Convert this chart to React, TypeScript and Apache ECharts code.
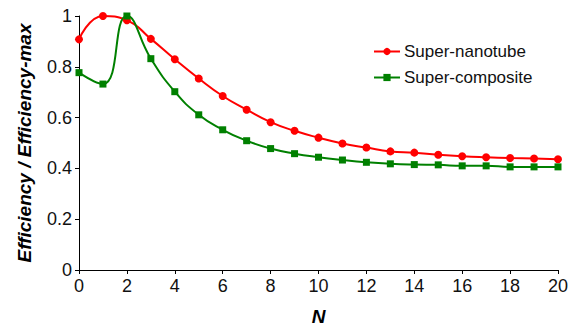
import React, { useEffect, useRef } from "react";
import * as echarts from "echarts";

const nValues = [0, 1, 2, 3, 4, 5, 6, 7, 8, 9, 10, 11, 12, 13, 14, 15, 16, 17, 18, 19, 20];
const nanotube = [0.908, 1.0, 0.983, 0.91, 0.83, 0.754, 0.685, 0.631, 0.582, 0.548, 0.521, 0.498, 0.482, 0.467, 0.462, 0.454, 0.448, 0.444, 0.441, 0.439, 0.436];
const composite = [0.777, 0.732, 1.0, 0.832, 0.702, 0.611, 0.552, 0.509, 0.478, 0.458, 0.444, 0.433, 0.424, 0.418, 0.415, 0.414, 0.41, 0.41, 0.406, 0.406, 0.406];
const seriesNames = ["Super-nanotube", "Super-composite"];
const xTitle = "N";
const yTitle = "Efficiency / Efficiency-max";

const FONT = "Liberation Sans, Arial, sans-serif";

export default function App() {
  const ref = useRef<HTMLDivElement>(null);
  useEffect(() => {
    if (!ref.current) return;
    const chart = echarts.init(ref.current, null, { renderer: "svg" });
    const axisLine = { show: true, lineStyle: { color: "#000", width: 1 } };
    chart.setOption({
      animation: false,
      backgroundColor: "#fff",
      textStyle: { fontFamily: FONT },
      grid: { left: 79, right: 27, top: 16, bottom: 59.5, containLabel: false },
      legend: {
        left: 373,
        top: 43,
        padding: 0,
        orient: "vertical",
        itemWidth: 26,
        itemHeight: 9,
        itemGap: 9,
        textStyle: { fontSize: 17, color: "#111", fontFamily: FONT, padding: [0, 0, 0, -1] },
        data: seriesNames,
      },
      xAxis: {
        type: "value",
        min: 0,
        max: 20,
        interval: 2,
        name: xTitle,
        nameLocation: "middle",
        nameGap: 37,
        nameTextStyle: { fontSize: 19, fontWeight: "bold", fontStyle: "italic", color: "#000", fontFamily: FONT },
        axisLine,
        axisTick: { show: true, inside: false, length: 4, lineStyle: { color: "#000" } },
        axisLabel: { fontSize: 18, color: "#111", margin: 7, fontFamily: FONT },
        splitLine: { show: false },
      },
      yAxis: {
        type: "value",
        min: 0,
        max: 1,
        interval: 0.2,
        name: yTitle,
        nameLocation: "middle",
        nameGap: 45,
        nameTextStyle: { fontSize: 19, fontWeight: "bold", fontStyle: "italic", color: "#000", fontFamily: FONT },
        axisLine,
        axisTick: { show: true, inside: false, length: 4, lineStyle: { color: "#000" } },
        axisLabel: { fontSize: 18, color: "#111", margin: 7, fontFamily: FONT },
        splitLine: { show: false },
      },
      series: [
        {
          name: seriesNames[0],
          type: "line",
          smooth: 0.5,
          data: nValues.map((n, i) => [n, nanotube[i]]),
          symbol: "circle",
          symbolSize: 8,
          lineStyle: { color: "#ff0000", width: 2 },
          itemStyle: { color: "#ff0000" },
        },
        {
          name: seriesNames[1],
          type: "line",
          smooth: 0.5,
          data: nValues.map((n, i) => [n, composite[i]]),
          symbol: "rect",
          symbolSize: 7,
          lineStyle: { color: "#008000", width: 2 },
          itemStyle: { color: "#008000" },
        },
      ],
    });
    return () => chart.dispose();
  }, []);
  return (
    <div
      ref={ref}
      style={{ position: "fixed", left: 0, top: 0, width: 585, height: 331, background: "#fff" }}
    />
  );
}
